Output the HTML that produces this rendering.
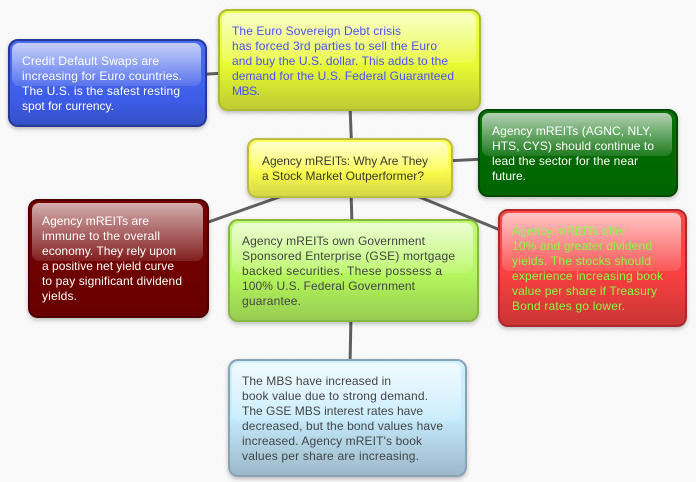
<!DOCTYPE html>
<html>
<head>
<meta charset="utf-8">
<style>
html,body{margin:0;padding:0;background:#f8f8f8;width:696px;height:482px;overflow:hidden}
svg{display:block}
text{font-family:"Liberation Sans",Arial,sans-serif;font-size:12px}
</style>
</head>
<body>
<svg width="696" height="482" viewBox="0 0 696 482" xmlns="http://www.w3.org/2000/svg">
<defs>
<pattern id="bgp" width="6" height="6" patternUnits="userSpaceOnUse">
<rect width="6" height="6" fill="#f9f9f9"/>
<rect x="0" y="0" width="1" height="1" fill="#f3f3f3"/>
<rect x="3" y="3" width="1" height="1" fill="#f3f3f3"/>
</pattern>
<linearGradient id="gl" x1="0" y1="0" x2="0" y2="1">
<stop offset="0" stop-color="#fff" stop-opacity=".68"/>
<stop offset="1" stop-color="#fff" stop-opacity=".12"/>
</linearGradient>
<linearGradient id="blue" x1="0" y1="0" x2="0" y2="1"><stop offset="0" stop-color="#4a6cf0"/><stop offset=".7" stop-color="#3d5ce8"/><stop offset="1" stop-color="#3350c4"/></linearGradient>
<linearGradient id="yel" x1="0" y1="0" x2="0" y2="1"><stop offset="0" stop-color="#eeff50"/><stop offset=".55" stop-color="#e8fa30"/><stop offset="1" stop-color="#bccb30"/></linearGradient>
<linearGradient id="cen" x1="0" y1="0" x2="0" y2="1"><stop offset="0" stop-color="#ffff60"/><stop offset=".55" stop-color="#fbfb48"/><stop offset="1" stop-color="#d4d448"/></linearGradient>
<linearGradient id="grn" x1="0" y1="0" x2="0" y2="1"><stop offset="0" stop-color="#087008"/><stop offset="1" stop-color="#006400"/></linearGradient>
<linearGradient id="dred" x1="0" y1="0" x2="0" y2="1"><stop offset="0" stop-color="#780000"/><stop offset="1" stop-color="#680000"/></linearGradient>
<linearGradient id="lime" x1="0" y1="0" x2="0" y2="1"><stop offset="0" stop-color="#c0fa70"/><stop offset=".55" stop-color="#b4f65c"/><stop offset="1" stop-color="#96cc50"/></linearGradient>
<linearGradient id="red" x1="0" y1="0" x2="0" y2="1"><stop offset="0" stop-color="#ff4848"/><stop offset=".55" stop-color="#fa4040"/><stop offset="1" stop-color="#c83434"/></linearGradient>
<linearGradient id="lb" x1="0" y1="0" x2="0" y2="1"><stop offset="0" stop-color="#d0f0ff"/><stop offset=".5" stop-color="#c4eafc"/><stop offset="1" stop-color="#9cb8c8"/></linearGradient>
<filter id="sh" x="-10%" y="-10%" width="120%" height="125%"><feDropShadow dx="0" dy="2" stdDeviation="2" flood-color="#000" flood-opacity=".25"/></filter>
</defs>

<rect width="696" height="482" fill="url(#bgp)"/>

<g stroke="#5f5f5f" stroke-width="3" fill="none">
<line x1="200" y1="74.500" x2="225" y2="73"/>
<line x1="350" y1="105" x2="351.500" y2="145"/>
<line x1="445" y1="161" x2="485" y2="159"/>
<line x1="200" y1="225" x2="285" y2="195"/>
<line x1="351" y1="190" x2="352" y2="225"/>
<line x1="412" y1="194" x2="505" y2="232"/>
<line x1="351" y1="315" x2="350" y2="365"/>
</g>

<!-- Blue -->
<g>
<rect x="9" y="40" width="197" height="86" rx="9" fill="url(#blue)" stroke="#25399a" stroke-width="2" filter="url(#sh)"/>
<rect x="12" y="43" width="189" height="43" rx="7" fill="url(#gl)"/>
<g fill="#fff">
<text x="22" y="65" textLength="137">Credit Default Swaps are</text>
<text x="22" y="80" textLength="160">increasing for Euro countries.</text>
<text x="22" y="95" textLength="158">The U.S. is the safest resting</text>
<text x="22" y="110" textLength="92">spot for currency.</text>
</g>
</g>

<!-- Top yellow -->
<g>
<rect x="219" y="10" width="261" height="100" rx="9" fill="url(#yel)" stroke="#aebb2e" stroke-width="2" filter="url(#sh)"/>
<rect x="222" y="13" width="254" height="50" rx="7" fill="url(#gl)"/>
<g fill="#4a50ff">
<text x="232" y="35" textLength="169">The Euro Sovereign Debt crisis</text>
<text x="232" y="50" textLength="205">has forced 3rd parties to sell the Euro</text>
<text x="232" y="65" textLength="216">and buy the U.S. dollar. This adds to the</text>
<text x="232" y="80" textLength="222">demand for the U.S. Federal Guaranteed</text>
<text x="232" y="95" textLength="28">MBS.</text>
</g>
</g>

<!-- Center -->
<g>
<rect x="248" y="139" width="204" height="58" rx="9" fill="url(#cen)" stroke="#bcbc40" stroke-width="2" filter="url(#sh)"/>
<rect x="251" y="142" width="197" height="29" rx="7" fill="url(#gl)"/>
<g fill="#3a3a2a">
<text x="262" y="165" textLength="166">Agency mREITs: Why Are They</text>
<text x="262" y="180" textLength="162">a Stock Market Outperformer?</text>
</g>
</g>

<!-- Green -->
<g>
<rect x="479" y="110" width="198" height="86" rx="9" fill="url(#grn)" stroke="#004a00" stroke-width="2" filter="url(#sh)"/>
<rect x="482" y="113" width="190" height="43" rx="7" fill="url(#gl)"/>
<g fill="#fff">
<text x="492" y="135" textLength="160">Agency mREITs (AGNC, NLY,</text>
<text x="492" y="150" textLength="162">HTS, CYS) should continue to</text>
<text x="492" y="165" textLength="146">lead the sector for the near</text>
<text x="492" y="180" textLength="34">future.</text>
</g>
</g>

<!-- Dark red -->
<g>
<rect x="29" y="200" width="179" height="117" rx="9" fill="url(#dred)" stroke="#4c0000" stroke-width="2" filter="url(#sh)"/>
<rect x="32" y="203" width="171" height="58" rx="7" fill="url(#gl)"/>
<g fill="#fff">
<text x="42" y="225" textLength="107">Agency mREITs are</text>
<text x="42" y="240" textLength="118">immune to the overall</text>
<text x="42" y="255" textLength="134">economy. They rely upon</text>
<text x="42" y="270" textLength="132">a positive net yield curve</text>
<text x="42" y="285" textLength="140">to pay significant dividend</text>
<text x="42" y="300" textLength="35">yields.</text>
</g>
</g>

<!-- Lime -->
<g>
<rect x="229" y="220" width="249" height="101" rx="9" fill="url(#lime)" stroke="#86b844" stroke-width="2" filter="url(#sh)"/>
<rect x="232" y="223" width="241" height="50" rx="7" fill="url(#gl)"/>
<g fill="#444">
<text x="242" y="245" textLength="183">Agency mREITs own Government</text>
<text x="242" y="260" textLength="213">Sponsored Enterprise (GSE) mortgage</text>
<text x="242" y="275" textLength="200">backed securities. These possess a</text>
<text x="242" y="290" textLength="173">100% U.S. Federal Government</text>
<text x="242" y="305" textLength="59">guarantee.</text>
</g>
</g>

<!-- Red -->
<g>
<rect x="499" y="210" width="187" height="116" rx="9" fill="url(#red)" stroke="#ac2c2c" stroke-width="2" filter="url(#sh)"/>
<rect x="502" y="213" width="179" height="58" rx="7" fill="url(#gl)"/>
<g fill="#80ff40">
<text x="512" y="235" textLength="114">Agency mREITs offer</text>
<text x="512" y="250" textLength="140">10% and greater dividend</text>
<text x="512" y="265" textLength="139">yields. The stocks should</text>
<text x="512" y="280" textLength="151">experience increasing book</text>
<text x="512" y="295" textLength="145">value per share if Treasury</text>
<text x="512" y="310" textLength="113">Bond rates go lower.</text>
</g>
</g>

<!-- Light blue -->
<g>
<rect x="229" y="360" width="237" height="116" rx="9" fill="url(#lb)" stroke="#88a4b4" stroke-width="2" filter="url(#sh)"/>
<rect x="232" y="363" width="229" height="58" rx="7" fill="url(#gl)"/>
<g fill="#444">
<text x="242" y="385" textLength="149">The MBS have increased in</text>
<text x="242" y="400" textLength="186">book value due to strong demand.</text>
<text x="242" y="415" textLength="181">The GSE MBS interest rates have</text>
<text x="242" y="430" textLength="201">decreased, but the bond values have</text>
<text x="242" y="445" textLength="180">increased. Agency mREIT's book</text>
<text x="242" y="460" textLength="177">values per share are increasing.</text>
</g>
</g>
</svg>
</body>
</html>
